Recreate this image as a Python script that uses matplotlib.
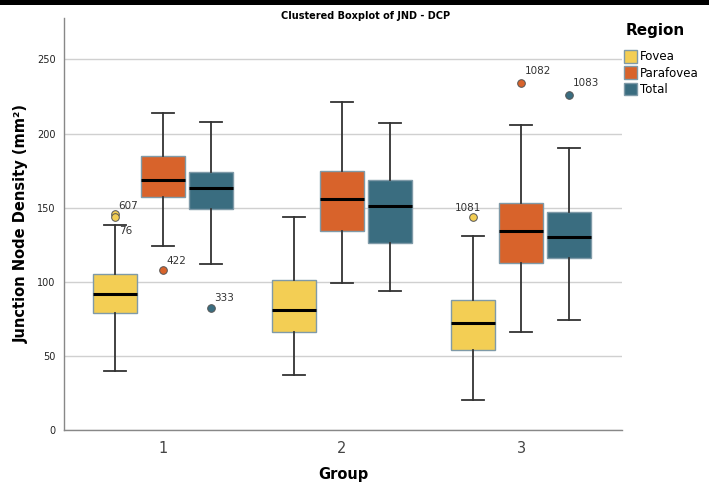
import matplotlib
matplotlib.use("Agg")
import matplotlib.pyplot as plt
from matplotlib.patches import Patch, Rectangle

# box stats: group -> region -> (whislo, q1, med, q3, whishi)
groups = [1, 2, 3]
regions = ["Fovea", "Parafovea", "Total"]
colors = ["#F3CE54", "#D8632B", "#3A6D80"]

fovea_stats = [(40, 79, 92, 105, 138), (37, 66, 81, 101, 144), (20, 54, 72, 88, 131)]
para_stats = [(124, 157, 169, 185, 214), (99, 134, 156, 175, 221), (66, 113, 134, 153, 206)]
total_stats = [(112, 149, 163, 174, 208), (94, 126, 151, 169, 207), (74, 116, 130, 147, 190)]

# outliers: (group, region index, value, case label)
outliers = [
    (1, 0, 146, "607"),
    (1, 0, 144, "76"),
    (1, 1, 108, "422"),
    (1, 2, 82, "333"),
    (3, 0, 144, "1081"),
    (3, 1, 234, "1082"),
    (3, 2, 226, "1083"),
]

fig = plt.figure(figsize=(7.09, 4.90), dpi=100)
ax = fig.add_axes([0.0903, 0.1224, 0.787, 0.841])

offset = 0.268
width = 0.246

for ri, stats in enumerate([fovea_stats, para_stats, total_stats]):
    bxp_stats = []
    for gi, s in enumerate(stats):
        fl = [o[2] for o in outliers if o[0] == groups[gi] and o[1] == ri]
        bxp_stats.append(dict(whislo=s[0], q1=s[1], med=s[2], q3=s[3], whishi=s[4], fliers=fl))
    pos = [g + (ri - 1) * offset for g in groups]
    ax.bxp(bxp_stats, positions=pos, widths=width, patch_artist=True,
           capwidths=0.12,
           boxprops=dict(facecolor=colors[ri], edgecolor="#7F9AA8", linewidth=1.0),
           medianprops=dict(color="black", linewidth=2.2),
           whiskerprops=dict(color="#333333", linewidth=1.3),
           capprops=dict(color="#333333", linewidth=1.3),
           flierprops=dict(marker="o", markerfacecolor=colors[ri], markeredgecolor="#555555",
                           markersize=5.5, markeredgewidth=0.7))

# case labels next to the outliers
label_offsets = {"607": (0.02, 5), "76": (0.02, -10), "422": (0.02, 6), "333": (0.02, 7),
                 "1081": (-0.1, 6), "1082": (0.02, 8), "1083": (0.02, 8)}
for g, ri, v, lab in outliers:
    dx, dy = label_offsets[lab]
    ax.text(g + (ri - 1) * offset + dx, v + dy, lab, fontsize=7.5, color="#333333",
            ha="left", va="center")

ax.set_xlim(0.447, 3.564)
ax.set_ylim(0, 278)
ax.set_yticks([0, 50, 100, 150, 200, 250])
ax.set_xticks(groups)
ax.set_xticklabels([str(g) for g in groups])
ax.tick_params(axis="y", length=0, labelsize=7, labelcolor="#222222", pad=6)
ax.tick_params(axis="x", length=0, labelsize=10.5, labelcolor="#444444", pad=8)
ax.yaxis.grid(True, color="#D0D0D0", linewidth=1.0)
ax.set_axisbelow(True)
for sp in ["top", "right"]:
    ax.spines[sp].set_visible(False)
for sp in ["left", "bottom"]:
    ax.spines[sp].set_color("#888888")
    ax.spines[sp].set_linewidth(1.0)

ax.set_ylabel("Junction Node Density (mm²)", fontsize=10.5, fontweight="bold", labelpad=6)
ax.set_xlabel("Group", fontsize=10.5, fontweight="bold", labelpad=8)
fig.text(0.515, 0.968, "Clustered Boxplot of JND - DCP", fontsize=7, fontweight="bold",
         ha="center", va="center")

# legend: title placed separately, entries below it
fig.text(0.924, 0.938, "Region", fontsize=11, fontweight="bold", ha="center", va="center")
handles = [Patch(facecolor=c, edgecolor="#7F9AA8", label=r) for c, r in zip(colors, regions)]
fig.legend(handles=handles, loc="upper left", bbox_to_anchor=(0.868, 0.915),
           frameon=False, fontsize=8.5, handlelength=1.1, handleheight=1.3,
           handletextpad=0.25, labelspacing=0.25, borderpad=0.2)

# black strip along the top edge
fig.patches.append(Rectangle((0, 0.99), 1, 0.01, transform=fig.transFigure,
                             facecolor="black", edgecolor="none"))

fig.savefig("out.png", dpi=100)
